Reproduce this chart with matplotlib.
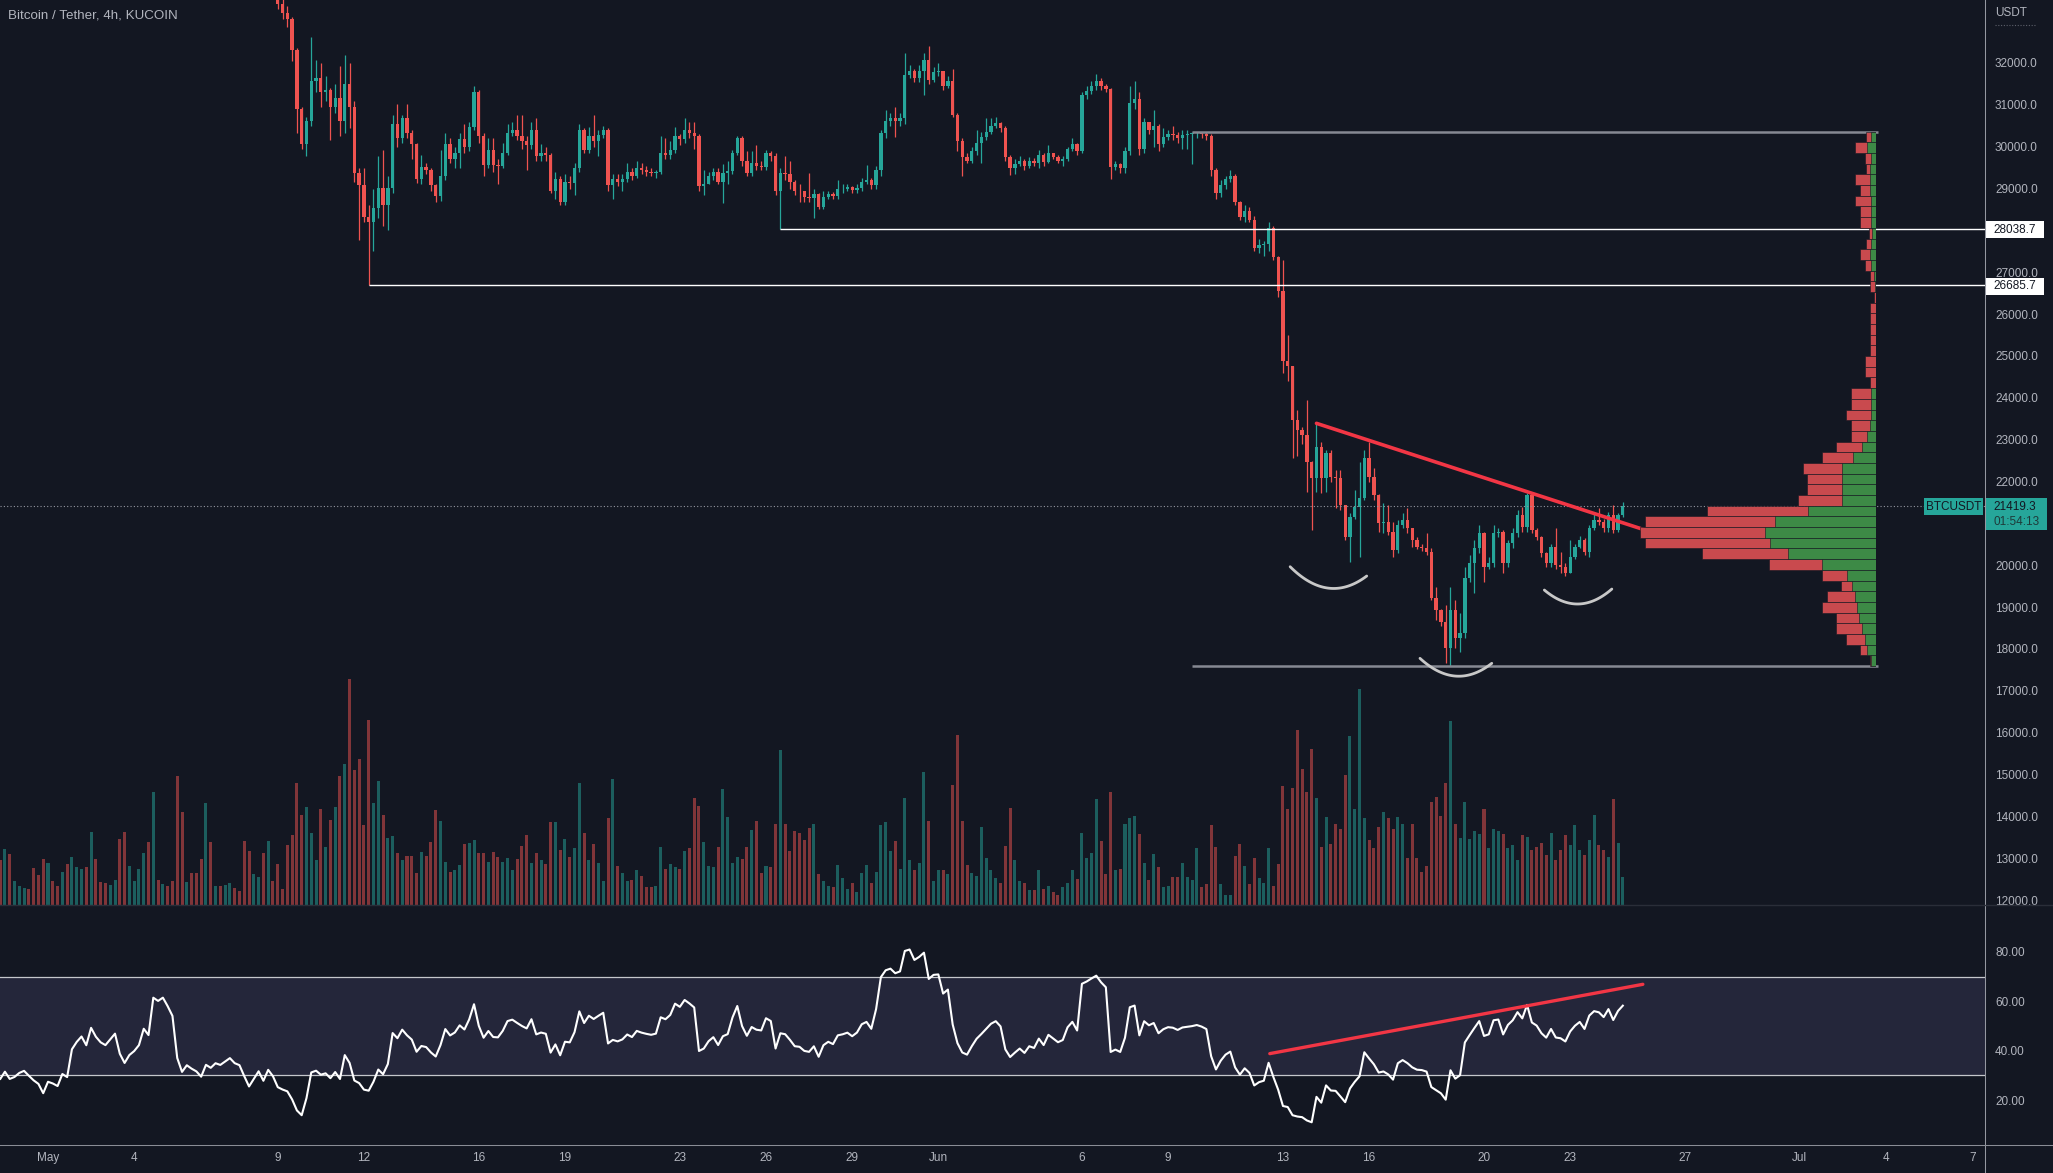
import numpy as np
import pandas as pd
import matplotlib
matplotlib.use("Agg")
import matplotlib.pyplot as plt
import matplotlib.dates as mdates
from matplotlib.lines import Line2D
from matplotlib.patches import Rectangle
from matplotlib.ticker import FormatStrFormatter
from matplotlib.transforms import blended_transform_factory

plt.rcParams['font.family'] = ['Liberation Sans', 'DejaVu Sans']

# 4h candles, first bar 2022-04-26 08:00 (first 18 bars are off-screen, used to warm up the RSI)
first_bar = '2022-04-26 08:00'
first_open = 40700

closes = [
    40500, 40100, 39200, 38150, 38500, 38900, 38700, 39100, 38900, 39250, 39400, 39600, 39300, 40100, 39800, 39700, 39500, 39300,
    39050, 39250, 38800, 38850, 38950, 39000, 38750, 38500, 38300, 37700,
    37950, 37850, 37700, 37950, 37800, 38450, 38650, 38800, 38500, 39000,
    38700, 38500, 38400, 38550, 38700, 38000, 37600, 37800, 37900, 38050,
    38500, 38300, 39700, 39600, 39750, 39500, 39200, 37300, 36300, 36550,
    36300, 36100, 35700, 36100, 35900, 36050, 35950, 36050, 36150, 35900,
    35800, 35200, 34500, 34700, 34900, 34300, 34600, 34200, 33400, 33200,
    33050, 32300, 30890, 30060, 30610, 31570, 31640, 31300, 31350, 30950,
    31160, 30610, 31500, 30950, 29370, 29090, 28330, 28200, 28540, 29020,
    28610, 29020, 30540, 30200, 30680, 30330, 30060, 29230, 29510, 29440,
    29090, 28820, 29300, 30060, 29710, 29850, 30190, 29990, 30470, 31300,
    30260, 29570, 29920, 29570, 29550, 29850, 30330, 30400, 30260, 30130,
    30030, 30400, 29780, 29850, 29800, 28950, 29230, 28680, 29160, 29130,
    29500, 30400, 29920, 30260, 30130, 30270, 30400, 29090, 29230, 29160,
    29230, 29400, 29300, 29500, 29440, 29400, 29370, 29400, 29850, 29800,
    29920, 30260, 30190, 30400, 30330, 30250, 29060, 29120, 29300, 29400,
    29160, 29370, 29420, 29850, 30200, 29670, 29370, 29620, 29540, 29520,
    29850, 29780, 28950, 29370, 29340, 29160, 28950, 28930, 28800, 28770,
    28880, 28570, 28800, 28870, 28810, 28980, 29000, 29030, 28960, 29020,
    29160, 29200, 29090, 29440, 30330, 30610, 30680, 30610, 30680, 31710,
    31810, 31640, 31810, 32060, 31600, 31780, 31800, 31440, 31580, 30750,
    30130, 29760, 29670, 29890, 30090, 30220, 30360, 30500, 30570, 30440,
    29760, 29480, 29580, 29670, 29530, 29670, 29620, 29810, 29640, 29850,
    29760, 29670, 29710, 29950, 30060, 29890, 31230, 31330, 31460, 31580,
    31460, 31370, 29510, 29580, 29480, 29890, 31050, 31130, 29950, 30580,
    30400, 30500, 30060, 30220, 30300, 30280, 30200, 30280, 30300, 30320,
    30350, 30310, 30250, 29440, 28890, 29090, 29230, 29300, 28680, 28330,
    28470, 28260, 27580, 27650, 27680, 28060, 27370, 26540, 24890, 24750,
    23470, 23230, 23110, 22470, 22075, 22830, 22075, 22673, 22115, 22075,
    21438, 20681, 21159, 21398, 21597, 22553, 22115, 21677, 20999, 21040,
    20801, 20363, 20960, 21080, 20880, 20602, 20442, 20420, 20323, 19208,
    18929, 18650, 18013, 18929, 18252, 18372, 19686, 20044, 20403, 20761,
    19965, 20044, 20761, 20801, 20044, 20522, 20761, 21199, 20920, 21677,
    20841, 20681, 20283, 20044, 20442, 20004, 19965, 19805, 20203, 20442,
    20602, 20323, 20880, 21080, 21040, 20880, 21199, 20841, 21199, 21419.3,
]

highs = [
    40800, 40600, 40200, 39300, 38700, 39000, 39100, 39300, 39200, 39400, 39500, 39800, 39700, 40300, 40200, 40000, 39800, 39600,
    39450, 39400, 39350, 39000, 39100, 39150, 39100, 38850, 38600, 38400,
    38050, 38050, 37950, 38050, 38050, 38550, 38750, 39000, 38900, 39150,
    39100, 38800, 38600, 38650, 38800, 38800, 38100, 37900, 38000, 38150,
    38600, 38650, 39800, 39900, 39950, 39800, 39600, 39300, 37400, 36700,
    36650, 36450, 36200, 36250, 36200, 36150, 36150, 36150, 36250, 36200,
    35950, 35900, 35300, 34850, 35050, 35000, 34750, 34700, 34250, 33550,
    33350, 33100, 32350, 30950, 30700, 32610, 32060, 31990, 31700, 31400,
    31500, 31920, 32200, 31990, 31100, 29500, 29500, 28600, 29000, 29780,
    29920, 29300, 30750, 31020, 30750, 31020, 30400, 30100, 29800, 29600,
    29500, 29100, 29920, 30330, 30200, 30000, 30330, 30540, 30600, 31460,
    31350, 30330, 30200, 30200, 29700, 30100, 30540, 30600, 30750, 30750,
    30250, 30600, 30680, 30060, 30000, 29850, 29400, 29300, 29350, 29300,
    29600, 30540, 30450, 30470, 30750, 30400, 30500, 30450, 29350, 29350,
    29350, 29600, 29500, 29650, 29600, 29550, 29500, 29450, 30260, 30200,
    30130, 30470, 30300, 30680, 30600, 30600, 30300, 29440, 29400, 29500,
    29500, 29580, 29650, 29920, 30260, 30260, 29900, 29900, 30030, 29650,
    29920, 29900, 29850, 29500, 29780, 29670, 29200, 29100, 28950, 29370,
    29000, 28900, 28950, 28950, 28920, 29200, 29100, 29120, 29050, 29100,
    29250, 29570, 29250, 29530, 30400, 30880, 30800, 30950, 30800, 32230,
    31950, 31850, 31950, 32230, 32400, 31900, 32000, 31800, 31700, 31850,
    30800, 30200, 29850, 30000, 30400, 30360, 30680, 30680, 30700, 30600,
    30500, 29800, 29700, 29780, 29700, 29750, 29720, 29920, 29850, 30030,
    29850, 29800, 29780, 30000, 30200, 30100, 31300, 31440, 31580, 31740,
    31650, 31500, 31400, 29650, 29600, 30000, 31440, 31570, 31300, 30680,
    30600, 30880, 30550, 30440, 30400, 30500, 30350, 30400, 30400, 30360,
    30360, 30350, 30340, 30300, 29500, 29200, 29300, 29440, 29350, 28700,
    28610, 28550, 28350, 27800, 27750, 28200, 28100, 27400, 27300, 25500,
    24750, 23700, 23300, 23947, 22500, 23390, 22950, 22752, 22752, 22275,
    22275, 21450, 21240, 21797, 22474, 22752, 22951, 22315, 21700, 21478,
    21438, 21040, 21080, 21239, 21358, 20900, 20681, 20500, 20761, 20400,
    19487, 18950, 19050, 19487, 19168, 18850, 19965, 20243, 20602, 20960,
    20801, 20203, 20960, 20900, 20850, 20602, 20880, 21319, 21398, 21717,
    21398, 20900, 20700, 20323, 20500, 20880, 20323, 20050, 20602, 20500,
    20700, 20650, 20950, 21239, 21358, 21100, 21279, 21438, 21250, 21500,
]

lows = [
    40300, 39900, 39000, 38000, 38100, 38400, 38500, 38600, 38700, 38800, 39150, 39300, 39200, 39200, 39700, 39550, 39400, 39200,
    38900, 38950, 38700, 38650, 38750, 38850, 38650, 38400, 38150, 37550,
    37600, 37750, 37550, 37650, 37700, 37750, 38350, 38550, 38400, 38450,
    38600, 38400, 38300, 38300, 38450, 37900, 37500, 37500, 37700, 37800,
    37950, 38200, 38100, 39450, 39500, 39400, 39050, 37100, 35900, 36200,
    36150, 35950, 35550, 35600, 35800, 35800, 35850, 35900, 35950, 35800,
    35700, 35000, 34200, 34400, 34600, 34200, 34150, 34050, 33300, 33050,
    32850, 32050, 30330, 29950, 29780, 30500, 31300, 30950, 31100, 30160,
    30800, 30250, 30330, 30450, 29150, 27780, 28200, 26685.7, 27500, 28300,
    28100, 28000, 28900, 30000, 30100, 30200, 29700, 29130, 29100, 29350,
    28950, 28680, 28700, 29200, 29600, 29500, 29500, 29850, 29900, 30400,
    30100, 29300, 29500, 29400, 29100, 29500, 29800, 30250, 30150, 29950,
    29440, 29950, 29650, 29650, 29650, 28900, 28750, 28600, 28600, 29000,
    28850, 29400, 29850, 29850, 30000, 29780, 30200, 28950, 28750, 29050,
    28950, 29150, 29200, 29250, 29350, 29300, 29300, 29250, 29350, 29700,
    29700, 29850, 30050, 30100, 30200, 29950, 28950, 28840, 29100, 29200,
    29100, 28650, 29100, 29350, 29800, 29550, 29300, 29300, 29450, 29450,
    29450, 29650, 28850, 28038.7, 29200, 29000, 28850, 28680, 28680, 28680,
    28300, 28500, 28500, 28750, 28750, 28750, 28900, 28950, 28900, 28900,
    28950, 29100, 29000, 29000, 29300, 30200, 30500, 30220, 30500, 30540,
    31650, 31550, 31550, 31230, 31500, 31550, 31700, 31350, 31400, 30700,
    29900, 29300, 29600, 29600, 29800, 29600, 30150, 30300, 30450, 30350,
    29650, 29330, 29350, 29550, 29450, 29500, 29550, 29500, 29550, 29600,
    29700, 29600, 29550, 29650, 29900, 29800, 29850, 31150, 31250, 31350,
    31350, 31300, 29230, 29450, 29370, 29380, 29800, 30900, 29810, 29850,
    30300, 29990, 29900, 30000, 30150, 30150, 30100, 29950, 29950, 29580,
    30200, 30200, 30150, 29300, 28750, 28800, 29000, 29150, 28600, 28260,
    28200, 28200, 27500, 27450, 27380, 27500, 27300, 26400, 24600, 24400,
    22553, 22600, 22900, 21757, 20841, 21757, 21717, 21757, 22000, 21358,
    21319, 20600, 20084, 21100, 20203, 21557, 22000, 21557, 20801, 20761,
    20721, 20203, 20283, 20900, 20761, 20442, 20380, 20350, 20250, 19168,
    18690, 18550, 17655, 17590, 18013, 17934, 18250, 19600, 19328, 20300,
    19606, 19900, 19950, 20680, 19805, 19965, 20400, 20681, 20800, 20801,
    20760, 20600, 20200, 19965, 19965, 19900, 19805, 19750, 19845, 20150,
    20400, 20250, 20203, 20850, 20950, 20800, 20801, 20760, 20800, 21150,
]

volumes = [
    600, 700, 1200, 1100, 500, 400, 450, 600, 550, 400, 350, 300, 400, 800, 700, 450, 400, 350,
    450, 560, 510, 240, 190, 170, 160, 370, 300, 460,
    420, 240, 190, 330, 410, 480, 380, 360, 380, 730,
    460, 230, 220, 200, 250, 660, 730, 390, 240, 360,
    520, 630, 1130, 250, 210, 190, 240, 1290, 930, 230,
    320, 320, 460, 1020, 630, 190, 190, 200, 220, 170,
    140, 640, 540, 310, 280, 520, 640, 240, 410, 160,
    600, 700, 1220, 900, 980, 720, 450, 960, 580, 850,
    980, 1290, 1410, 2260, 1350, 1460, 800, 1850, 1020, 1240,
    900, 670, 690, 520, 450, 490, 490, 320, 530, 490,
    630, 950, 840, 430, 330, 350, 400, 610, 620, 650,
    520, 520, 430, 530, 480, 430, 470, 350, 460, 590,
    700, 420, 520, 450, 410, 830, 830, 550, 660, 480,
    570, 1220, 720, 450, 610, 420, 240, 870, 1260, 390,
    320, 240, 250, 350, 290, 180, 180, 190, 580, 360,
    410, 380, 360, 540, 570, 1070, 990, 630, 390, 380,
    580, 1160, 880, 420, 480, 460, 580, 750, 840, 320,
    390, 380, 810, 1550, 810, 540, 740, 720, 650, 770,
    810, 310, 240, 190, 180, 400, 270, 160, 220, 130,
    320, 400, 220, 330, 800, 830, 540, 640, 360, 1070,
    450, 350, 420, 1330, 840, 240, 350, 350, 310, 1200,
    1700, 840, 400, 320, 290, 780, 470, 350, 270, 220,
    590, 970, 450, 240, 220, 150, 150, 350, 160, 190,
    130, 100, 180, 220, 350, 260, 720, 470, 520, 1060,
    640, 310, 1130, 350, 360, 810, 870, 890, 710, 420,
    250, 510, 380, 180, 190, 280, 280, 420, 280, 250,
    570, 180, 210, 800, 580, 210, 100, 100, 490, 610,
    390, 210, 470, 270, 220, 570, 190, 410, 1190, 960,
    1170, 1750, 1360, 1130, 1560, 1070, 580, 880, 610, 810,
    760, 1300, 1690, 960, 2160, 870, 650, 570, 780, 930,
    870, 760, 880, 810, 470, 810, 470, 330, 390, 1030,
    1080, 890, 1220, 1840, 810, 670, 1030, 660, 740, 710,
    960, 570, 760, 740, 710, 570, 600, 450, 700, 680,
    550, 580, 620, 500, 720, 450, 550, 700, 600, 800,
    550, 500, 650, 900, 600, 550, 480, 1060, 620, 280,
]

# visible-range volume profile, 50 rows from top of range to bottom
vp_top, vp_bottom = 30360, 17590
vp_total = [31, 63, 33, 31, 63, 48, 63, 48, 48, 20, 31, 48, 33, 18, 18, 5, 18, 18, 18, 18,
            18, 33, 33, 18, 75, 75, 90, 75, 75, 120, 163, 220, 206, 206, 235, 506, 693, 708, 693, 523,
            321, 163, 106, 148, 163, 120, 120, 91, 48, 18]
vp_up = [15, 28, 15, 18, 18, 18, 16, 16, 16, 13, 16, 18, 16, 6, 3, 0, 0, 0, 0, 0,
         0, 0, 0, 0, 16, 16, 16, 18, 28, 43, 70, 103, 103, 103, 103, 203, 303, 333, 318, 263,
         163, 88, 73, 63, 58, 50, 43, 33, 28, 16]

# drawings
support_levels = [26685.7, 28038.7]
support_start = ['2022-05-12 04:00', '2022-05-26 12:00']
range_levels = [30360, 17590]
range_span = ['2022-06-09 20:00', '2022-07-03 17:00']
trend_dates = ['2022-06-14 04:00', '2022-06-25 14:40']
trend_prices = [23390, 20840]
arcs = [
    [('2022-06-13 06:00', 19964), ('2022-06-14 15:20', 19448), ('2022-06-15 22:00', 19742)],
    [('2022-06-17 18:30', 17775), ('2022-06-18 23:45', 17352), ('2022-06-20 06:30', 17656)],
    [('2022-06-22 02:25', 19407), ('2022-06-23 06:15', 19073), ('2022-06-24 10:50', 19431)],
]
rsi_trend_dates = ['2022-06-12 13:00', '2022-06-25 12:45']
rsi_trend_values = [38.8, 66.9]

tick_dates = ['2022-05-01', '2022-05-04', '2022-05-09', '2022-05-12', '2022-05-16', '2022-05-19',
              '2022-05-23', '2022-05-26', '2022-05-29', '2022-06-01', '2022-06-06', '2022-06-09',
              '2022-06-13', '2022-06-16', '2022-06-20', '2022-06-23', '2022-06-27', '2022-07-01',
              '2022-07-04', '2022-07-07']
tick_labels = ['May', '4', '9', '12', '16', '19', '23', '26', '29', 'Jun', '6', '9', '13', '16',
               '20', '23', '27', 'Jul', '4', '7']

BG = '#131722'
UP = '#26a69a'
DOWN = '#ef5350'
TXT = '#b2b5be'
VP_UP = '#3d8a46'
VP_DOWN = '#c94a4e'

W, H = 2053, 1173
PANE_R, PRICE_B, RSI_B = 1985, 905, 1145
YMIN, YMAX = 11881, 33505

times = pd.date_range(first_bar, periods=len(closes), freq='4h')
x = mdates.date2num(times)
c = np.array(closes, float)
o = np.concatenate([[first_open], c[:-1]])
hi = np.maximum(np.array(highs, float), np.maximum(o, c))
lo = np.minimum(np.array(lows, float), np.minimum(o, c))
col = np.where(c >= o, UP, DOWN)

# RSI 14 (Wilder)
d = pd.Series(c).diff()
gain = d.clip(lower=0).ewm(alpha=1 / 14, adjust=False).mean()
loss = (-d.clip(upper=0)).ewm(alpha=1 / 14, adjust=False).mean()
rsi = (100 - 100 / (1 + gain / loss)).to_numpy()

may1 = mdates.date2num(pd.Timestamp('2022-05-01'))
px_day = 28.72
x_left = may1 - 48 / px_day
x_right = may1 + (PANE_R - 48) / px_day


def rect(x0, y0, x1, y1):
    return [x0 / W, 1 - y1 / H, (x1 - x0) / W, (y1 - y0) / H]


def dn(s):
    return mdates.date2num(pd.Timestamp(s))


fig = plt.figure(figsize=(W / 100, H / 100), dpi=100, facecolor=BG)

axv = fig.add_axes(rect(0, 0, PANE_R, PRICE_B))
axv.bar(x, volumes, width=0.105, color=col, alpha=0.5, linewidth=0)
axv.set_ylim(0, 9050)
axv.set_xlim(x_left, x_right)
axv.axis('off')

ax = fig.add_axes(rect(0, 0, PANE_R, PRICE_B), sharex=axv)
ax.patch.set_visible(False)
ax.vlines(x, lo, hi, colors=col, linewidth=0.9)
ax.bar(x, np.maximum(np.abs(c - o), 15), bottom=np.minimum(o, c), width=0.115, color=col, linewidth=0)
ax.set_ylim(YMIN, YMAX)

ax.axhline(c[-1], color='#9598a1', lw=0.8, ls=(0, (1, 2)))
for lvl, s in zip(support_levels, support_start):
    ax.hlines(lvl, dn(s), x_right, color='white', lw=1.0)
ax.hlines(range_levels, dn(range_span[0]), dn(range_span[1]), color='#868993', lw=1.8)
ax.plot([dn(s) for s in trend_dates], trend_prices, color='#f23645', lw=2.6, solid_capstyle='round')
for pts in arcs:
    ax_x = np.array([dn(p[0]) for p in pts])
    ax_y = np.array([p[1] for p in pts])
    coef = np.polyfit(ax_x - ax_x[0], ax_y, 2)
    xs = np.linspace(ax_x[0], ax_x[-1], 60)
    ax.plot(xs, np.polyval(coef, xs - ax_x[0]), color='#c8c8c8', lw=2.0, solid_capstyle='round')

ax.yaxis.tick_right()
ax.set_yticks(np.arange(12000, 33000, 1000))
ax.yaxis.set_major_formatter(FormatStrFormatter('%.1f'))
ax.tick_params(axis='y', length=0, pad=7.2, labelsize=8.5, labelcolor=TXT)
ax.tick_params(axis='x', bottom=False, labelbottom=False)
for sp in ax.spines.values():
    sp.set_visible(False)

# volume profile
vp = fig.add_axes(rect(1576, 0, 1876, PRICE_B))
row_h = (vp_top - vp_bottom) / len(vp_total)
centers = vp_top - row_h * (np.arange(len(vp_total)) + 0.5)
vp.barh(centers, vp_total, height=row_h, color=VP_DOWN, edgecolor=BG, linewidth=0.4)
vp.barh(centers, vp_up, height=row_h, color=VP_UP, edgecolor=BG, linewidth=0.4)
vp.set_xlim(900, 0)
vp.set_ylim(YMIN, YMAX)
vp.axis('off')

# RSI pane
ax_rsi = fig.add_axes(rect(0, PRICE_B, PANE_R, RSI_B), sharex=axv, facecolor=BG)
ax_rsi.axhspan(30, 70, color='#24263a', lw=0)
ax_rsi.axhline(70, color='#c5c7cc', lw=0.9)
ax_rsi.axhline(30, color='#c5c7cc', lw=0.9)
ax_rsi.plot(x, rsi, color='white', lw=1.5)
ax_rsi.plot([dn(s) for s in rsi_trend_dates], rsi_trend_values, color='#f23645', lw=2.4, solid_capstyle='round')
ax_rsi.set_ylim(1.76, 99.05)
ax_rsi.yaxis.tick_right()
ax_rsi.set_yticks([20, 40, 60, 80])
ax_rsi.yaxis.set_major_formatter(FormatStrFormatter('%.2f'))
ax_rsi.set_xticks([dn(s) for s in tick_dates])
ax_rsi.set_xticklabels(tick_labels)
ax_rsi.tick_params(axis='y', length=0, pad=7.2, labelsize=8.5, labelcolor=TXT)
ax_rsi.tick_params(axis='x', length=0, pad=5, labelsize=8.5, labelcolor=TXT)
for sp in ax_rsi.spines.values():
    sp.set_visible(False)
ax_rsi.set_xlim(x_left, x_right)

# pane borders
fig.add_artist(Line2D([PANE_R / W] * 2, [0, 1], transform=fig.transFigure, color='#9598a1', lw=0.75))
fig.add_artist(Line2D([0, 1], [1 - RSI_B / H] * 2, transform=fig.transFigure, color='#8a8d96', lw=0.75))
fig.add_artist(Line2D([0, 1], [1 - PRICE_B / H] * 2, transform=fig.transFigure, color='#2a2e39', lw=1.0))

fig.text(8 / W, 1 - 15 / H, 'Bitcoin / Tether, 4h, KUCOIN', color=TXT, fontsize=9.6, va='center')
fig.text(1995 / W, 1 - 13 / H, 'USDT', color=TXT, fontsize=8.5, va='center')
fig.add_artist(Line2D([1995 / W, 2036 / W], [1 - 25 / H] * 2, transform=fig.transFigure,
                      color='#5d606b', lw=0.8, ls=(0, (1, 1.5))))

# price tags
blend = blended_transform_factory(fig.transFigure, ax.transData)
ppx = (YMAX - YMIN) / PRICE_B


def tag(y, x0, x1, up_px, down_px, fc):
    fig.add_artist(Rectangle((x0 / W, y - down_px * ppx), (x1 - x0) / W, (up_px + down_px) * ppx,
                             transform=blend, facecolor=fc, edgecolor='none'))


for lvl in support_levels:
    tag(lvl, PANE_R, 2044, 7.5, 9.5, 'white')
    fig.text(1993 / W, lvl - 1 * ppx, f'{lvl:.1f}', transform=blend, color=BG, fontsize=8.5, va='center')

last = c[-1]
tag(last, PANE_R, 2047, 7.5, 24.5, UP)
fig.text(1993 / W, last - 1 * ppx, f'{last:.1f}', transform=blend, color=BG, fontsize=8.5, va='center')
fig.text(1993 / W, last - 16 * ppx, '01:54:13', transform=blend, color='#1e3b3a', fontsize=8.5, va='center')
tag(last, 1924, 1983, 7.5, 9.5, UP)
fig.text(1953.5 / W, last - 1 * ppx, 'BTCUSDT', transform=blend, color=BG, fontsize=8.5,
         va='center', ha='center')

fig.savefig('out.png', dpi=100, facecolor=BG)
